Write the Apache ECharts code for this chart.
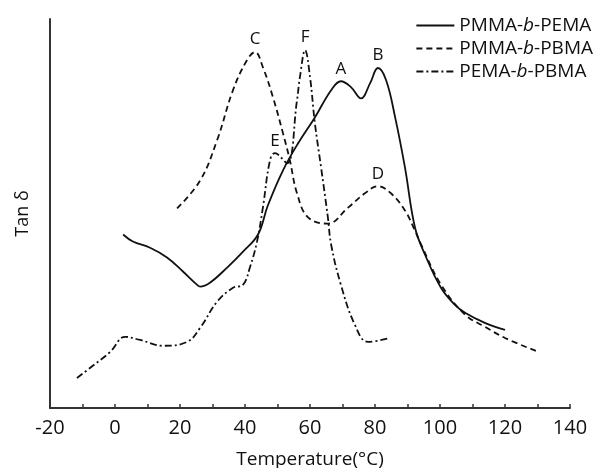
<!DOCTYPE html>
<html>
<head>
<meta charset="utf-8">
<script src="https://cdn.jsdelivr.net/npm/echarts@6/dist/echarts.min.js"></script>
<style>
html,body{margin:0;padding:0;background:#fff;}
#chart{width:598px;height:468px;}
</style>
</head>
<body>
<div id="chart"></div>
<script>
// Series names
var seriesNames = ['PMMA-b-PEMA', 'PMMA-b-PBMA', 'PEMA-b-PBMA'];

// PMMA-b-PEMA (solid)
var tempPmmaPema = [2.5, 5.5, 10.8, 16, 20.9, 25.2, 26.2, 29.2, 34.5, 39.4, 44, 47, 51.7, 56.3, 61.5, 66.5, 69.5, 72.6, 75.7, 78.5, 80.9, 83.4, 86.2, 89.2, 92.3, 95.4, 100.3, 104.6, 107.7, 113.8, 120];
var tanPmmaPema  = [44.6, 42.8, 41.2, 38.7, 35.1, 31.7, 31.2, 32.2, 36.1, 40.2, 44.6, 52, 61.1, 68.0, 74.7, 81.7, 84.0, 82.5, 79.6, 83.5, 87.4, 84.3, 74.7, 61.9, 46.4, 39.4, 30.9, 26.5, 24.5, 21.9, 20.1];

// PMMA-b-PBMA (dashed)
var tempPmmaPbma = [19.1, 26.2, 31.4, 36.3, 40.6, 43.1, 45.5, 48.6, 51.7, 53.8, 56, 59.4, 65.5, 71.7, 76.9, 80.9, 84.9, 89.2, 92.3, 94.2, 100.3, 107.7, 113.8, 120, 129.5];
var tanPmmaPbma  = [51.3, 58.5, 68.8, 81.7, 89.4, 91.5, 87.6, 79.9, 70.6, 63.7, 55.2, 49.0, 47.4, 51.5, 55.2, 57.0, 55.2, 50.8, 45.6, 42.0, 31.7, 24.0, 20.9, 18.0, 14.7];

// PEMA-b-PBMA (dash-dot)
var tempPemaPbma = [-11.7, -7.7, -1.5, 3.1, 7.7, 14.8, 22.2, 26.2, 31.4, 36.3, 39.4, 41.5, 43.7, 45.5, 47.7, 49.2, 52.9, 56, 56.9, 58.5, 60, 61.5, 63.4, 65.5, 66.5, 69.5, 73.8, 77.8, 84.6];
var tanPemaPbma  = [7.7, 10.3, 14.4, 18.3, 17.5, 16.0, 17.0, 20.6, 27.3, 30.9, 31.7, 36.1, 42.8, 51.5, 63.7, 65.5, 62.9, 79.1, 85.1, 92.0, 85.1, 73.2, 61.9, 49.0, 42.0, 31.7, 21.4, 17.0, 18.0];

// Peak labels
var peakNames  = ['A', 'B', 'C', 'D', 'E', 'F'];
var peakTemps  = [69.5, 80.9, 43.1, 80.9, 49.2, 58.5];
var peakTans   = [84.0, 87.4, 91.5, 57.0, 65.5, 92.0];
var peakSeries = [0, 0, 1, 1, 2, 2];

// X axis
var xMin = -20, xMax = 140, xStep = 10;

function zip(xs, ys) { return xs.map(function (x, i) { return [x, ys[i]]; }); }
function peaksFor(si) {
  var out = [];
  for (var i = 0; i < peakNames.length; i++) {
    if (peakSeries[i] === si) out.push({ name: peakNames[i], coord: [peakTemps[i], peakTans[i]], value: peakNames[i] });
  }
  return out;
}

var font = 'Open Sans';
var lineColor = '#111';
var dashTypes = ['solid', [6, 4], [7, 3, 2, 3]];
var datas = [zip(tempPmmaPema, tanPmmaPema), zip(tempPmmaPbma, tanPmmaPbma), zip(tempPemaPbma, tanPemaPbma)];

var series = seriesNames.map(function (name, i) {
  return {
    name: name,
    type: 'line',
    data: datas[i],
    smooth: 0.4,
    symbol: 'none',
    showSymbol: false,
    lineStyle: { color: lineColor, width: 1.8, type: dashTypes[i] },
    itemStyle: { color: lineColor },
    markPoint: {
      symbol: 'circle',
      symbolSize: 0,
      silent: true,
      label: {
        show: true,
        position: 'top',
        distance: 4,
        formatter: '{b}',
        color: '#111',
        fontFamily: font,
        fontSize: 17
      },
      data: peaksFor(i)
    }
  };
});

var chart = echarts.init(document.getElementById('chart'));
chart.setOption({
  backgroundColor: '#fff',
  animation: false,
  grid: { left: 50, right: 28, top: 19, bottom: 60, containLabel: false, outerBoundsMode: 'none' },
  legend: {
    orient: 'vertical',
    right: 0,
    top: 11,
    itemWidth: 38,
    itemHeight: 10,
    itemGap: 4,
    data: seriesNames,
    itemStyle: { opacity: 0 },
    formatter: function (n) {
      var p = n.split('-b-');
      return '{n|' + p[0] + '-}{i|b}{n|-' + p[1] + '}';
    },
    textStyle: {
      color: '#111',
      fontFamily: font,
      fontSize: 19,
      rich: {
        n: { fontFamily: font, fontSize: 19, color: '#111' },
        i: { fontFamily: font, fontSize: 19, fontStyle: 'italic', color: '#111' }
      }
    }
  },
  xAxis: {
    type: 'value',
    min: xMin,
    max: xMax,
    interval: xStep,
    name: 'Temperature(°C)',
    nameLocation: 'middle',
    nameGap: 42,
    nameTextStyle: { color: '#111', fontFamily: font, fontSize: 19 },
    axisLine: { show: true, onZero: false, lineStyle: { color: '#333', width: 2 } },
    axisTick: { show: true, inside: true, length: 4, lineStyle: { color: '#333', width: 1.5 } },
    axisLabel: {
      color: '#111', fontFamily: font, fontSize: 20, margin: 10,
      formatter: function (v) { return v % 20 === 0 ? String(v) : ''; }
    },
    splitLine: { show: false }
  },
  yAxis: {
    type: 'value',
    min: 0,
    max: 100,
    name: 'Tan δ',
    nameLocation: 'middle',
    nameGap: 18,
    nameTextStyle: { color: '#111', fontFamily: font, fontSize: 18 },
    axisLine: { show: true, onZero: false, lineStyle: { color: '#333', width: 2 } },
    axisTick: { show: false },
    axisLabel: { show: false },
    splitLine: { show: false }
  },
  series: series
});
</script>
</body>
</html>
